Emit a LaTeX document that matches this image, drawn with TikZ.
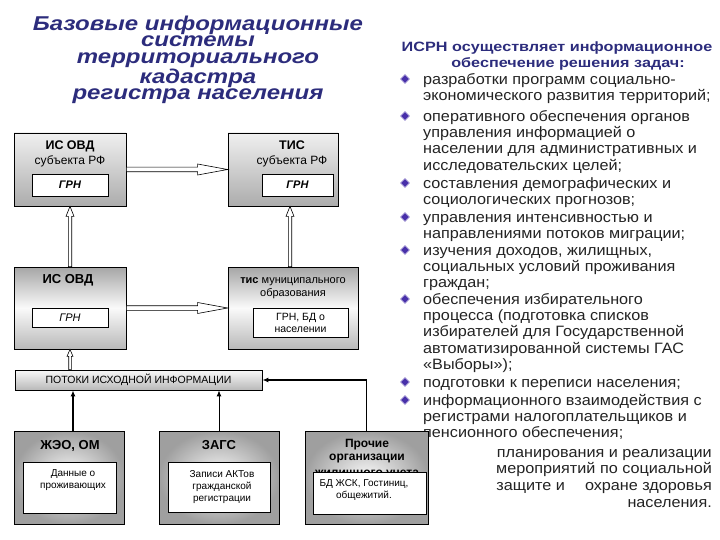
\documentclass[tikz,border=0pt]{standalone}
\usepackage{fontspec}
\setmainfont{Liberation Sans}
\newfontfamily\widefont[FakeStretch=1.2]{Liberation Sans}
\newfontfamily\bodyfont[FakeStretch=1.08]{Liberation Sans}
\usetikzlibrary{shapes.geometric,calc,arrows.meta}

\definecolor{navy}{RGB}{44,44,124}
\definecolor{darktext}{RGB}{35,35,35}
\definecolor{bulletblue}{RGB}{72,48,170}

\newcommand{\lift}[1]{\rule{0pt}{#1}}

\tikzset{
  frame/.style={draw=black, line width=0.8pt},
  upperbox/.style={frame, top color=gray!12, bottom color=gray!65},
  lowerbox/.style={frame, top color=gray!70, bottom color=gray!55, middle color=gray!4},
  sourcebox/.style={frame, shading=radial, inner color=gray!4, outer color=gray!75},
  whitebox/.style={draw=black, line width=0.7pt, fill=white},
  task/.style={anchor=north west, align=left, inner sep=0, text=darktext,
    font=\bodyfont\fontsize{15}{16.3}\selectfont},
  bullet/.style={diamond, fill=bulletblue, draw=bulletblue!50!white, line width=0.8pt,
    minimum size=9pt, inner sep=0},
  hollow/.style n args={3}{draw=black, line width=0.6pt, fill=white, to path={
      ($(\tikztostart)!#1!90:(\tikztotarget)$)
      -- ($(\tikztotarget)!#3!(\tikztostart)!#1!90:(\tikztotarget)$)
      -- ($(\tikztotarget)!#3!(\tikztostart)!#2!90:(\tikztotarget)$)
      -- (\tikztotarget)
      -- ($(\tikztotarget)!#3!(\tikztostart)!#2!-90:(\tikztotarget)$)
      -- ($(\tikztotarget)!#3!(\tikztostart)!#1!-90:(\tikztotarget)$)
      -- ($(\tikztostart)!#1!-90:(\tikztotarget)$) -- cycle}},
  feed/.style={-{Latex[length=6pt,width=5pt]}},
}

\begin{document}
\begin{tikzpicture}[x=1pt, y=-1pt]
\useasboundingbox (0,0) rectangle (720,540);

% title on the left
\node[anchor=north, align=center, inner sep=0, text=navy,
  font=\widefont\bfseries\itshape\fontsize{20}{16.7}\selectfont] (title) at (198,14)
  {\lift{16pt}Базовые информационные\\системы\\территориального\\кадастра\\регистра населения};

% tasks on the right
\node[anchor=base, text=navy, font=\widefont\bfseries\fontsize{13.5}{16}\selectfont] (isrnA) at (557,52) {ИСРН осуществляет информационное};
\node[anchor=base, text=navy, font=\widefont\bfseries\fontsize{13.5}{16}\selectfont] (isrnB) at (568,68) {обеспечение решения задач:};

\node[task] (t1) at (423,72) {\lift{12pt}разработки программ социально-\\экономического развития территорий;};
\node[task] (t2) at (423,109) {\lift{12pt}оперативного обеспечения органов\\управления информацией о\\населении для административных и\\исследовательских целей;};
\node[task] (t3) at (423,176) {\lift{12pt}составления\ демографических\ и\\социологических\ прогнозов;};
\node[task] (t4) at (423,210) {\lift{12pt}управления\ интенсивностью\ и\\направлениями потоков миграции;};
\node[task] (t5) at (423,243) {\lift{12pt}изучения доходов, жилищных,\\социальных условий проживания\\граждан;};
\node[task] (t6) at (423,292) {\lift{12pt}обеспечения избирательного\\процесса (подготовка списков\\избирателей для Государственной\\автоматизированной системы ГАС\\«Выборы»);};
\node[task] (t7) at (423,375) {\lift{12pt}подготовки к переписи населения;};
\node[task] (t8) at (423,393) {\lift{12pt}информационного взаимодействия с\\регистрами налогоплательщиков и\\пенсионного обеспечения;};
\node[task, anchor=north east, align=right, font=\bodyfont\fontsize{15}{16.7}\selectfont] (t9) at (712,445)
  {\lift{12pt}планирования и реализации\\мероприятий по социальной\\защите и\hspace{20pt}охране здоровья\\населения.};

\foreach \y [count=\i] in {84,121,188,222,255,304,387,405}
  \node[bullet] (b\i) at (405,\y-5) {};

% upper level
\node[upperbox, minimum width=112pt, minimum height=73pt] (ovdsub) at (70,169.5) {};
\node[anchor=base, font=\bfseries\fontsize{12.5}{14}\selectfont] (ovdsubname) at (70,150) {ИС ОВД};
\node[anchor=base, font=\fontsize{12}{14}\selectfont] (ovdsubname2) at (70,165) {субъекта РФ};
\node[whitebox, minimum width=76pt, minimum height=22pt, font=\bfseries\itshape\fontsize{11}{13}\selectfont] (ovdsubgrn) at (70,185) {ГРН};

\node[upperbox, minimum width=110pt, minimum height=73pt] (tissub) at (283,169.5) {};
\node[anchor=base, font=\bfseries\fontsize{12.5}{14}\selectfont] (tissubname) at (292,150) {ТИС};
\node[anchor=base, font=\fontsize{12}{14}\selectfont] (tissubname2) at (292,165) {субъекта РФ};
\node[whitebox, minimum width=71pt, minimum height=22pt, font=\bfseries\itshape\fontsize{11}{13}\selectfont] (tissubgrn) at (297.5,185) {ГРН};

% municipal level
\node[lowerbox, minimum width=112pt, minimum height=82pt] (ovdmun) at (70,308) {};
\node[anchor=base, font=\bfseries\fontsize{13}{14}\selectfont] (ovdmunname) at (68,283) {ИС ОВД};
\node[whitebox, minimum width=76pt, minimum height=19pt, font=\itshape\fontsize{11}{13}\selectfont] (ovdmungrn) at (70,317.5) {ГРН};

\node[lowerbox, minimum width=130pt, minimum height=82pt] (tismun) at (293,308) {};
\node[anchor=base, font=\fontsize{11}{13}\selectfont] (tismunname) at (293,283) {\textbf{тис} муниципального};
\node[anchor=base, font=\fontsize{11}{13}\selectfont] (tismunname2) at (293,296) {образования};
\node[whitebox, minimum width=95pt, minimum height=29pt, align=center, font=\fontsize{10.5}{12}\selectfont] (tismunbd) at (300.5,322.5) {ГРН, БД о\\населении};

% flows
\node[frame, top color=gray!5, bottom color=gray!55, minimum width=247pt, minimum height=20pt,
  font=\fontsize{10.5}{12}\selectfont] (flows) at (138.5,380) {ПОТОКИ ИСХОДНОЙ ИНФОРМАЦИИ};

% sources
\node[sourcebox, minimum width=110pt, minimum height=93pt] (zheo) at (69,477.5) {};
\node[anchor=base, font=\bfseries\fontsize{13}{14}\selectfont] (zheoname) at (70,449) {ЖЭО, ОМ};
\node[whitebox, minimum width=93pt, minimum height=51pt] (zheodata) at (69.5,487.5) {};
\node[anchor=north, align=center, inner sep=0, font=\fontsize{10}{12}\selectfont] (zheotext) at (73,468) {\lift{8pt}Данные о\\проживающих};

\node[sourcebox, minimum width=120pt, minimum height=93pt] (zags) at (219,477.5) {};
\node[anchor=base, font=\bfseries\fontsize{13}{14}\selectfont] (zagsname) at (219,449) {ЗАГС};
\node[whitebox, minimum width=102pt, minimum height=50pt] (zagsdata) at (219,487) {};
\node[anchor=north, align=center, inner sep=0, font=\fontsize{10}{12}\selectfont] (zagstext) at (222,469) {\lift{8pt}Записи АКТов\\гражданской\\регистрации};

\node[sourcebox, minimum width=123pt, minimum height=93pt] (other) at (366.5,477.5) {};
\node[anchor=north, align=center, inner sep=0, font=\bfseries\fontsize{12}{13.3}\selectfont] (othername) at (367,438) {\lift{9pt}Прочие\\организации\\[2.5pt]жилищного учета};
\node[whitebox, minimum width=113pt, minimum height=42pt] (otherdata) at (369.5,493) {};
\node[anchor=north, align=center, inner sep=0, font=\fontsize{10}{12}\selectfont] (othertext) at (364,478) {\lift{8pt}БД ЖСК, Гостиниц,\\общежитий.};

% connectors
\draw[hollow={2.3pt}{5.5pt}{30pt}] (ovdsub.east) to (tissub.west);
\draw[hollow={2.3pt}{5.5pt}{30pt}] (ovdmun.east) to (tismun.west);
\draw[hollow={1.7pt}{4pt}{10pt}] (ovdmun.north) to (ovdsub.south);
\coordinate (tisup) at ($(tissub.south)+(7,0)$);
\draw[hollow={1.7pt}{4pt}{10pt}] (tismun.north -| tisup) to (tisup);
\draw[hollow={1.3pt}{3pt}{7pt}] (flows.north -| ovdmun.south) to (ovdmun.south);

\coordinate (zheoout) at ($(zheo.north)+(4,0)$);
\draw[feed, line width=2pt] (zheoout) -- (flows.south -| zheoout);
\draw[feed, line width=1pt] (zags.north) -- (flows.south -| zags.north);
\draw[feed, line width=1.5pt] (other.north) |- (flows.east);
\end{tikzpicture}
\end{document}
